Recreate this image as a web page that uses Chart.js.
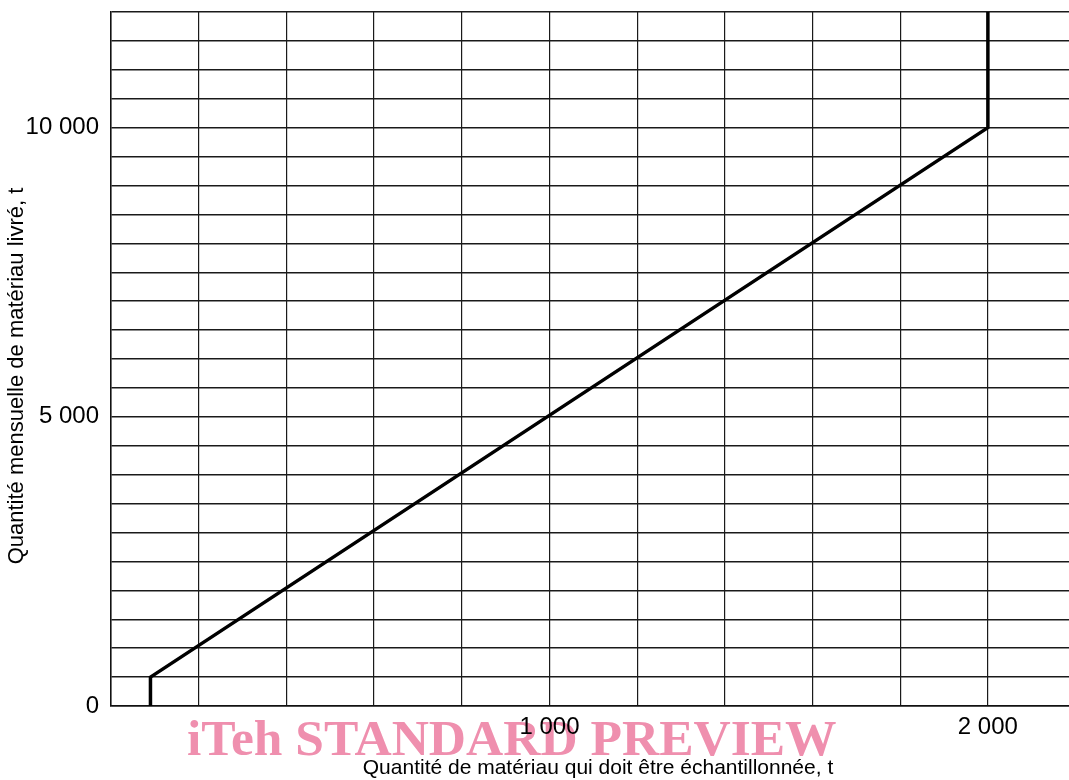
<!DOCTYPE html>
<html>
<head>
<meta charset="utf-8">
<script src="https://cdn.jsdelivr.net/npm/chart.js@4/dist/chart.umd.min.js"></script>
<style>
html, body { margin: 0; padding: 0; background: #fff; }
#wrap { position: relative; width: 1069px; height: 780px; }
</style>
</head>
<body>
<div id="wrap"><canvas id="c"></canvas></div>
<script>
// Data
const sampledQuantity = [90, 90, 2000, 2000];       // x: quantité à échantillonner, t
const monthlyQuantity = [0, 500, 10000, 12000];     // y: quantité mensuelle livrée, t
const xGridValues = [0, 200, 400, 600, 800, 1000, 1200, 1400, 1600, 1800, 2000];
const yGridValues = [0, 500, 1000, 1500, 2000, 2500, 3000, 3500, 4000, 4500, 5000, 5500,
                     6000, 6500, 7000, 7500, 8000, 8500, 9000, 9500, 10000, 10500, 11000, 11500, 12000];
const xLabelledTicks = [1000, 2000];
const yLabelledTicks = [0, 5000, 10000];
const xTitle = "Quantité de matériau qui doit être échantillonnée, t";
const yTitle = "Quantité mensuelle de matériau livré, t";
const watermark = "iTeh STANDARD PREVIEW";

function fmt(v) {
  return String(v).replace(/\B(?=(\d{3})+(?!\d))/g, " ");
}

const points = sampledQuantity.map((x, i) => ({ x: x, y: monthlyQuantity[i] }));

const extras = {
  id: 'extras',
  afterDraw(chart) {
    const ctx = chart.ctx;
    ctx.save();
    ctx.fillStyle = '#000';
    ctx.textAlign = 'center';
    ctx.textBaseline = 'middle';
    ctx.font = '21px "Liberation Sans", Arial, sans-serif';
    ctx.fillText(xTitle, 598, 768);
    ctx.font = '22px "Liberation Sans", Arial, sans-serif';
    ctx.translate(17, 376);
    ctx.rotate(-Math.PI / 2);
    ctx.fillText(yTitle, 0, 0);
    ctx.restore();
    ctx.save();
    ctx.globalCompositeOperation = 'multiply';
    ctx.fillStyle = '#ef8fae';
    ctx.font = 'bold 51.5px "Liberation Serif", "Times New Roman", serif';
    ctx.textAlign = 'left';
    ctx.textBaseline = 'alphabetic';
    ctx.fillText(watermark, 187, 755);
    ctx.restore();
  }
};

new Chart(document.getElementById('c'), {
  type: 'line',
  data: {
    datasets: [{
      data: points,
      borderColor: '#000',
      borderWidth: 3.5,
      pointRadius: 0,
      tension: 0,
      fill: false,
      clip: false
    }]
  },
  options: {
    responsive: true,
    maintainAspectRatio: false,
    animation: false,
    layout: { padding: { top: 12, right: 0, left: 0, bottom: 0 } },
    plugins: { legend: { display: false }, tooltip: { enabled: false } },
    scales: {
      x: {
        type: 'linear',
        min: 0,
        max: 2185,
        afterBuildTicks(scale) {
          scale.ticks = xGridValues.map(v => ({ value: v }));
        },
        afterFit(scale) {
          scale.height = 74;
          scale.paddingLeft = 0; scale.paddingRight = 0;
          scale.paddingTop = 0; scale.paddingBottom = 0;
        },
        ticks: {
          autoSkip: false,
          includeBounds: false,
          maxRotation: 0,
          minRotation: 0,
          padding: 7,
          color: '#000',
          font: { family: '"Liberation Sans", Arial, sans-serif', size: 24 },
          callback: (v) => xLabelledTicks.includes(v) ? fmt(v) : ''
        },
        grid: { color: '#1a1a1a', lineWidth: 1.2, drawTicks: false, drawOnChartArea: true },
        border: { display: true, color: '#111', width: 1.5 }
      },
      y: {
        type: 'linear',
        min: 0,
        max: 12000,
        afterBuildTicks(scale) {
          scale.ticks = yGridValues.map(v => ({ value: v }));
        },
        afterFit(scale) {
          scale.width = 111;
          scale.paddingTop = 0; scale.paddingBottom = 0;
          scale.paddingLeft = 0; scale.paddingRight = 0;
        },
        ticks: {
          autoSkip: false,
          includeBounds: false,
          padding: 12,
          color: '#000',
          font: { family: '"Liberation Sans", Arial, sans-serif', size: 24 },
          callback: (v) => yLabelledTicks.includes(v) ? fmt(v) : ''
        },
        grid: { color: '#1a1a1a', lineWidth: 1.4, drawTicks: false },
        border: { display: true, color: '#111', width: 1.5 }
      }
    }
  },
  plugins: [extras]
});
</script>
</body>
</html>
